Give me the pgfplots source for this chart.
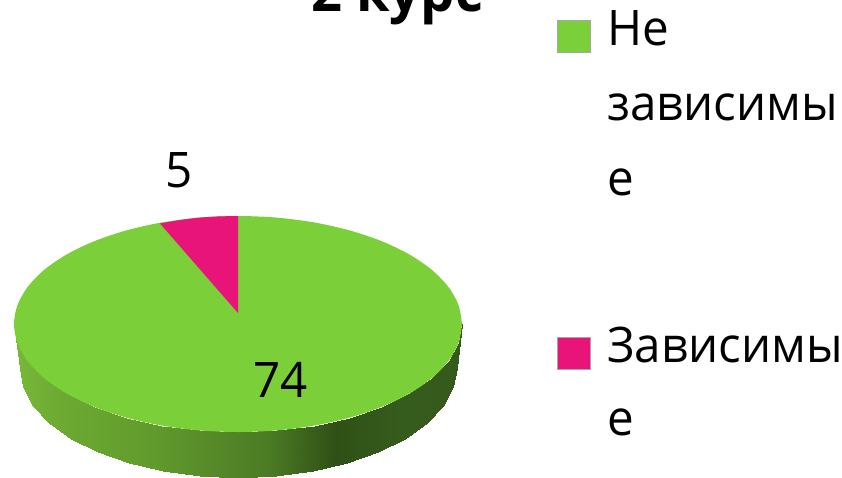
\documentclass[border=0pt]{standalone}
\usepackage{fontspec}
\setmainfont[FakeStretch=0.97]{Open Sans}
\usepackage{pgfplots}
\pgfplotsset{compat=1.18}
\definecolor{piegreen}{RGB}{123,207,57}
\definecolor{piepink}{RGB}{232,20,122}
\tikzset{lab/.style={font=\fontsize{49}{49}\selectfont, anchor=base west, inner sep=0pt}}
\begin{document}
\begin{tikzpicture}
\path[use as bounding box, clip] (0,0) rectangle (842pt,477pt);
\begin{axis}[
    at={(0,0)}, anchor=south west,
    hide axis, scale only axis,
    width=842pt, height=477pt,
    xmin=0, xmax=842, ymin=0, ymax=477,
    y dir=reverse,
    colormap={pieside}{
        rgb255(14pt)=(120,185,57) rgb255(60pt)=(108,170,50) rgb255(150pt)=(98,155,45)
        rgb255(270pt)=(75,122,36) rgb255(335pt)=(47,80,22) rgb255(400pt)=(54,92,29)
        rgb255(462pt)=(53,89,28)},
]
% rim of the pie, lower half only
\addplot[surf, shader=interp, mesh/rows=2, point meta=x] coordinates {
    (14,324) (17.4,342.7) (27.5,360.9) (44,378) (66.4,393.4) (94,406.7) (126,417.5) (161.4,425.5) (199.1,430.4)
    (238,432)
    (276.9,430.4) (314.6,425.5) (350,417.5) (382,406.7) (409.6,393.4) (432,378) (448.5,360.9) (458.6,342.7) (462,324)

    (20,368) (23.3,387.1) (33.1,405.6) (49.2,423) (71,438.7) (97.9,452.3) (129,463.3) (163.4,471.4) (200.1,476.3)
    (238,478)
    (275.9,476.3) (312.6,471.4) (347,463.3) (378.1,452.3) (405,438.7) (426.8,423) (442.9,405.6) (452.7,387.1) (457,368)
};
% top face: 74
\addplot[fill=piegreen, draw=none, smooth] coordinates {
    (462,324) (458.6,342.7) (448.5,360.9) (432,378) (409.6,393.4) (382,406.7) (350,417.5) (314.6,425.5) (276.9,430.4)
    (238,432)
    (199.1,430.4) (161.4,425.5) (126,417.5) (94,406.7) (66.4,393.4) (44,378) (27.5,360.9) (17.4,342.7) (14,324)
    (17.4,305.3) (27.5,287.1) (44,270) (66.4,254.6) (94,241.3) (126,230.5) (161.4,222.5) (199.1,217.6)
    (238,216)
    (276.9,217.6) (314.6,222.5) (350,230.5) (382,241.3) (409.6,254.6) (432,270) (448.5,287.1) (458.6,305.3) (462,324)
};
% slice: 5
\addplot[fill=piepink, draw=none] coordinates {
    (238,313) (238,216) (218,216.4) (199.1,217.6) (180,220) (160,223.5) (238,313)
};
% legend keys
\addplot[fill=piegreen, draw=gray!70, line width=0.6pt] coordinates {(557,20) (590,20) (590,52) (557,52) (557,20)};
\addplot[fill=piepink, draw=gray!70, line width=0.6pt] coordinates {(557,337) (590,337) (590,369) (557,369) (557,337)};

\node[lab, font=\fontsize{56}{56}\selectfont\bfseries] at (axis cs:311,11) {2 курс};
\node[lab] at (axis cs:165,187) {5};
\node[lab] at (axis cs:253,397) {74};
\node[lab] at (axis cs:607,45) {Не};
\node[lab] at (axis cs:607,120) {зависимы};
\node[lab] at (axis cs:607,195) {е};
\node[lab] at (axis cs:607,362) {Зависимы};
\node[lab] at (axis cs:607,435) {е};
\end{axis}
\end{tikzpicture}
\end{document}
